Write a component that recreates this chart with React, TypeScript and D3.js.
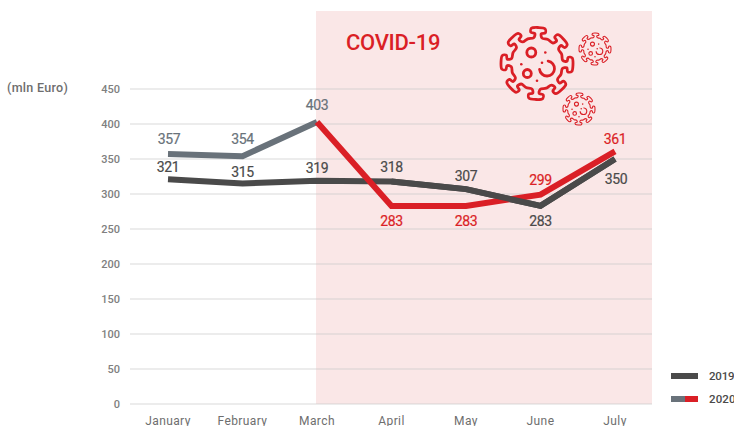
import React from "react";
import * as d3 from "d3";

const months = ["January", "February", "March", "April", "May", "June", "July"];
const values2019 = [321, 315, 319, 318, 307, 283, 350];
const values2020 = [357, 354, 403, 283, 283, 299, 361];
const labelOffset2019 = [-7, -6.5, -8, -9, -8, 20, 25];
const labelOffset2020 = [-10, -12, -12, 20, 20, -10, -7];
const yTicks = [0, 50, 100, 150, 200, 250, 300, 350, 400, 450];
const grayEndIndex = 2;

const W = 734, H = 426;
const font = "'Roboto', 'Noto Sans', sans-serif";
const x = d3.scalePoint<string>().domain(months).range([168, 615]);
const y = d3.scaleLinear().domain([0, 450]).range([404, 89]);

const DARK = "#4a4a4a", SLATE = "#69727a", RED = "#da1f26", AXIS = "#808080";

function virusOutline(R: number) {
  const n = 8;
  const body = R * 0.71, neck = R * 0.83, hw = R * 0.09, cap = R * 0.2;
  const pt = (a: number, along: number, side: number): [number, number] => [
    along * Math.cos(a) - side * Math.sin(a),
    along * Math.sin(a) + side * Math.cos(a),
  ];
  const pts: [number, number][] = [];
  for (let i = 0; i < n; i++) {
    const a = (-90 + (i * 360) / n + 2) * (Math.PI / 180);
    pts.push(
      pt(a, body, -hw * 1.3), pt(a, neck, -hw), pt(a, neck + R * 0.03, -cap),
      pt(a, R * 0.97, -cap * 0.95), pt(a, R, 0), pt(a, R * 0.97, cap * 0.95), pt(a, neck + R * 0.03, cap),
      pt(a, neck, hw), pt(a, body, hw * 1.3),
    );
    const mid = a + Math.PI / n;
    pts.push([body * 1.03 * Math.cos(mid), body * 1.03 * Math.sin(mid)]);
  }
  return d3.line().curve(d3.curveCatmullRomClosed.alpha(0.5))(pts) as string;
}

function Virus({ cx, cy, R, sw }: { cx: number; cy: number; R: number; sw: number }) {
  const k = R / 36;
  const rings = [[-5.7, -11, 4.5], [-9.7, 10, 4]];
  const dots = [[8.3, -11], [-15.7, 0.7], [5, -0.7], [0, 17.3]];
  const arc = d3.arc()({
    innerRadius: 7.5 * k, outerRadius: 7.5 * k, startAngle: 0.15, endAngle: 4.6,
  } as any) as string;
  return (
    <g transform={`translate(${cx},${cy})`} fill="none" stroke={RED} strokeWidth={sw} strokeLinejoin="round">
      <path d={virusOutline(R)} />
      {rings.map((r, i) => <circle key={i} cx={r[0] * k} cy={r[1] * k} r={r[2] * k} />)}
      {dots.map((d, i) => <circle key={i} cx={d[0] * k} cy={d[1] * k} r={1.3 * Math.max(k, 0.6)} fill={RED} stroke="none" />)}
      <path d={arc} transform={`translate(${10 * k},${5 * k})`} strokeLinecap="round" />
    </g>
  );
}

export default function App() {
  const line = d3.line<number>().x((_, i) => x(months[i])!).y((d) => y(d));
  const gray = values2020.slice(0, grayEndIndex + 1);
  const redPts = values2020.slice(grayEndIndex);
  const redLine = d3.line<number>().x((_, i) => x(months[i + grayEndIndex])!).y((d) => y(d));
  const bandLeft = x("March")! - 1;
  return (
    <svg width={W} height={H} style={{ position: "absolute", left: 0, top: 0, background: "#fff" }} fontFamily={font}>
      <rect x={bandLeft} y={11} width={652 - bandLeft} height={y(0) - 11} fill="#fae7e7" />
      {yTicks.map((t) => (
        <g key={t}>
          <line x1={130} x2={652} y1={y(t)} y2={y(t)} stroke="#c4c4c4" strokeOpacity={0.65} strokeWidth={1} />
          <text x={120} y={y(t) + 4} textAnchor="end" fontSize={11} fontWeight={500} fill={AXIS}>{t}</text>
        </g>
      ))}
      {months.map((m) => (
        <text key={m} x={x(m)} y={425} textAnchor="middle" fontSize={12} fontWeight={400} fill="#6e6e6e" letterSpacing={0.4}>{m}</text>
      ))}
      <text x={7} y={92} fontSize={12.5} fontWeight={500} fill="#6e6e6e" letterSpacing={0.3}>(mln Euro)</text>

      <path d={line(values2019) ?? ""} fill="none" stroke={DARK} strokeWidth={6} />
      <path d={line(gray) ?? ""} fill="none" stroke={SLATE} strokeWidth={6} />
      <path d={redLine(redPts) ?? ""} fill="none" stroke={RED} strokeWidth={6} />
      <path d={d3.line<number>().x((_, i) => x(months[i + 3])!).y((d) => y(d))(values2019.slice(3)) ?? ""} fill="none" stroke={DARK} strokeWidth={6} />

      {values2019.map((v, i) => (
        <text key={i} x={x(months[i])! + (i === 6 ? 1 : 0)} y={y(v) + labelOffset2019[i]} textAnchor="middle" fontSize={14} fontWeight={400} letterSpacing={-0.4} stroke={DARK} strokeWidth={0.2} fill={DARK}>{v}</text>
      ))}
      {values2020.map((v, i) => (
        <text key={i} x={x(months[i])! + (i === 0 ? 1 : 0)} y={y(v) + labelOffset2020[i]} textAnchor="middle" fontSize={14} fontWeight={400} letterSpacing={-0.4} stroke={i < grayEndIndex + 1 ? SLATE : RED} strokeWidth={0.2} fill={i < grayEndIndex + 1 ? SLATE : RED}>{v}</text>
      ))}

      <text x={346} y={50} fontSize={22} fontWeight={500} fill={RED} letterSpacing={-0.3}>COVID-19</text>
      <Virus cx={537} cy={63.5} R={36} sw={2.8} />
      <Virus cx={595} cy={49} R={16} sw={1.1} />
      <Virus cx={579} cy={109} R={16} sw={1.1} />

      <rect x={671} y={373} width={27} height={6} fill={DARK} />
      <text x={709} y={380} fontSize={11.5} fontWeight={500} letterSpacing={-0.2} fill={DARK}>2019</text>
      <rect x={671} y={396} width={14} height={6} fill={SLATE} />
      <rect x={685} y={396} width={13} height={6} fill={RED} />
      <text x={709} y={403} fontSize={11.5} fontWeight={500} letterSpacing={0.1} fill={DARK}>2020</text>
    </svg>
  );
}
